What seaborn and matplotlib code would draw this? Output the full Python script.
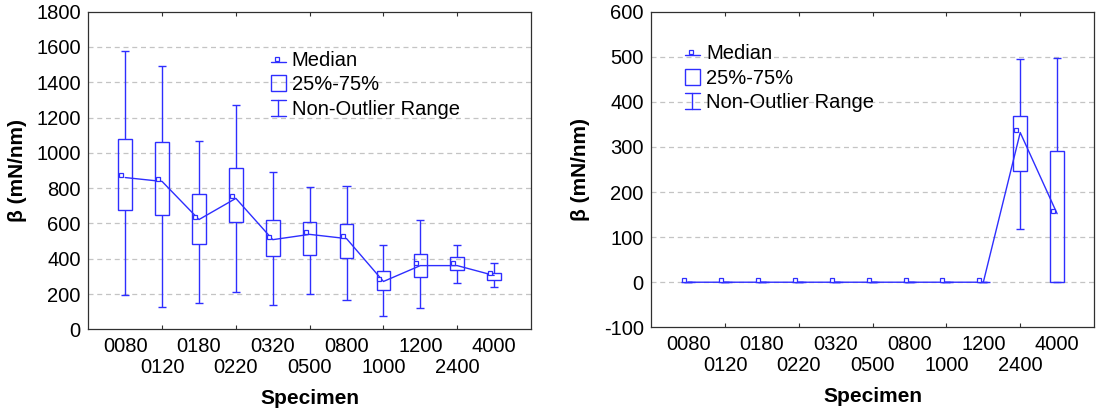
import numpy as np
import matplotlib
matplotlib.use("Agg")
import matplotlib.pyplot as plt
import matplotlib.transforms as mtransforms
from matplotlib.lines import Line2D
from matplotlib.patches import Rectangle
from matplotlib.legend_handler import HandlerBase
import seaborn as sns

# ---------------- data ----------------
specimens = ["0080", "0120", "0180", "0220", "0320", "0500",
             "0800", "1000", "1200", "2400", "4000"]

# left panel
left_median = [860, 838, 622, 742, 508, 538, 514, 271, 361, 361, 305]
left_q1 = [677, 650, 486, 609, 415, 419, 402, 224, 295, 336, 280]
left_q3 = [1078, 1061, 765, 917, 620, 607, 598, 329, 426, 407, 321]
left_low = [196, 125, 150, 213, 140, 200, 164, 77, 121, 262, 239]
left_high = [1575, 1490, 1070, 1270, 889, 804, 813, 477, 617, 478, 378]

# right panel
right_median = [0, 0, 0, 0, 0, 0, 0, 0, 0, 332, 152]
right_q1 = [0, 0, 0, 0, 0, 0, 0, 0, 0, 246, 0]
right_q3 = [0, 0, 0, 0, 0, 0, 0, 0, 0, 369, 291]
right_low = [0, 0, 0, 0, 0, 0, 0, 0, 0, 118, 0]
right_high = [0, 0, 0, 0, 0, 0, 0, 0, 0, 494, 498]

legend_labels = ["Median", "25%-75%", "Non-Outlier Range"]

# ---------------- style ----------------
sns.set_style("white")
plt.rcParams["font.family"] = ["Liberation Sans", "DejaVu Sans"]
plt.rcParams["font.size"] = 14.5
plt.rcParams["text.color"] = "black"
plt.rcParams["axes.labelcolor"] = "black"
plt.rcParams["xtick.color"] = "black"
plt.rcParams["ytick.color"] = "black"

BLUE = "#2e2eff"
SPINE = "#303030"
FS = 14.5

fig = plt.figure(figsize=(10.97, 4.12), dpi=100)
ax1 = fig.add_axes([88.3 / 1097, 1 - 329.3 / 412, 442.7 / 1097, 317.6 / 412])
ax2 = fig.add_axes([651.3 / 1097, 1 - 327.3 / 412, 442.7 / 1097, 315.6 / 412])


class MedianHandler(HandlerBase):
    def create_artists(self, legend, orig_handle, xdescent, ydescent,
                       width, height, fontsize, trans):
        y0 = -ydescent + height * 0.3
        line = Line2D([-xdescent, -xdescent + width], [y0, y0],
                      color=BLUE, lw=1.0, transform=trans)
        mk = Line2D([-xdescent + width * 0.4], [y0 + 2.2], marker="s",
                    ms=3.2, mfc="white", mec=BLUE, mew=0.9, ls="none",
                    transform=trans)
        return [line, mk]


class BoxHandler(HandlerBase):
    def create_artists(self, legend, orig_handle, xdescent, ydescent,
                       width, height, fontsize, trans):
        r = Rectangle((-xdescent, -ydescent), width, height, fill=False,
                      edgecolor=BLUE, lw=1.0, transform=trans)
        return [r]


class RangeHandler(HandlerBase):
    def create_artists(self, legend, orig_handle, xdescent, ydescent,
                       width, height, fontsize, trans):
        x0, x1 = -xdescent, -xdescent + width
        yb, yt = -ydescent, -ydescent + height
        xm = (x0 + x1) / 2
        a = Line2D([xm, xm], [yb, yt], color=BLUE, lw=1.0, transform=trans)
        b = Line2D([x0, x1], [yt, yt], color=BLUE, lw=1.0, transform=trans)
        c = Line2D([x0, x1], [yb, yb], color=BLUE, lw=1.0, transform=trans)
        return [a, b, c]


def draw_panel(ax, median, q1, q3, low, high, ylim, yticks, legend_anchor):
    pos = np.arange(len(specimens))
    q1 = np.array(q1, float)
    q3 = np.array(q3, float)
    low = np.array(low, float)
    high = np.array(high, float)
    median = np.array(median, float)

    # grid
    for yv in yticks[1:-1]:
        ax.axhline(yv, color="#c4c4c4", lw=0.9, ls=(0, (4, 3)), zorder=0)

    # boxes
    ax.bar(pos, q3 - q1, bottom=q1, width=0.37, fill=False,
           edgecolor=BLUE, linewidth=1.0, zorder=3)
    # whiskers
    ax.vlines(pos, low, q1, color=BLUE, lw=1.0, zorder=3)
    ax.vlines(pos, q3, high, color=BLUE, lw=1.0, zorder=3)
    cap = 0.11
    ax.hlines(high, pos - cap, pos + cap, color=BLUE, lw=1.0, zorder=3)
    ax.hlines(low, pos - cap, pos + cap, color=BLUE, lw=1.0, zorder=3)

    # median line
    sns.lineplot(x=pos, y=median, ax=ax, color=BLUE, lw=1.0, zorder=4)
    off = mtransforms.ScaledTranslation(-4 / 100, 2.5 / 100, fig.dpi_scale_trans)
    ax.plot(pos, median, ls="none", marker="s", ms=3.2, mfc="white",
            mec=BLUE, mew=0.9, transform=ax.transData + off, zorder=5)

    ax.set_xlim(-1, len(specimens))
    ax.set_ylim(*ylim)
    ax.set_yticks(yticks)
    ax.set_yticklabels([str(v) for v in yticks])

    # staggered category labels: even positions on the first row (major),
    # odd positions on the second row (minor, with tick marks)
    ax.set_xticks(pos[0::2])
    ax.set_xticklabels(specimens[0::2])
    ax.set_xticks(pos[1::2], minor=True)
    ax.set_xticklabels(specimens[1::2], minor=True)
    ax.tick_params(axis="x", which="major", length=0, pad=5.5, labelsize=FS,
                   labelcolor="black")
    ax.tick_params(axis="x", which="minor", direction="in", length=3,
                   width=0.8, color=SPINE, top=True, bottom=True,
                   pad=21.0, labelsize=FS, labelcolor="black")
    ax.tick_params(axis="y", which="major", direction="in", length=3,
                   width=0.8, color=SPINE, pad=5.5, labelsize=FS,
                   labelcolor="black")
    for sp in ax.spines.values():
        sp.set_color(SPINE)
        sp.set_linewidth(0.9)

    ax.set_xlabel("Specimen", fontsize=15, fontweight="bold", color="black")
    ax.set_ylabel("β (mN/nm)", fontsize=15, fontweight="bold", color="black")
    ax.xaxis.label.set_va("center")
    ax.xaxis.set_label_coords(0.5, -0.218)
    ax.yaxis.label.set_va("center")
    ax.yaxis.set_label_coords(-0.160, 0.5)

    handles = [object(), object(), object()]
    leg = ax.legend(handles, legend_labels,
                    handler_map={handles[0]: MedianHandler(),
                                 handles[1]: BoxHandler(),
                                 handles[2]: RangeHandler()},
                    loc="upper left", bbox_to_anchor=legend_anchor,
                    frameon=False, borderpad=0, borderaxespad=0,
                    handlelength=0.75, handleheight=0.85,
                    handletextpad=0.3, labelspacing=0.27, fontsize=FS)
    return leg


draw_panel(ax1, left_median, left_q1, left_q3, left_low, left_high,
           (0, 1800), list(range(0, 1801, 200)), (0.412, 0.877))
draw_panel(ax2, right_median, right_q1, right_q3, right_low, right_high,
           (-100, 600), list(range(-100, 601, 100)), (0.076, 0.897))

fig.savefig("out.png", dpi=100)
